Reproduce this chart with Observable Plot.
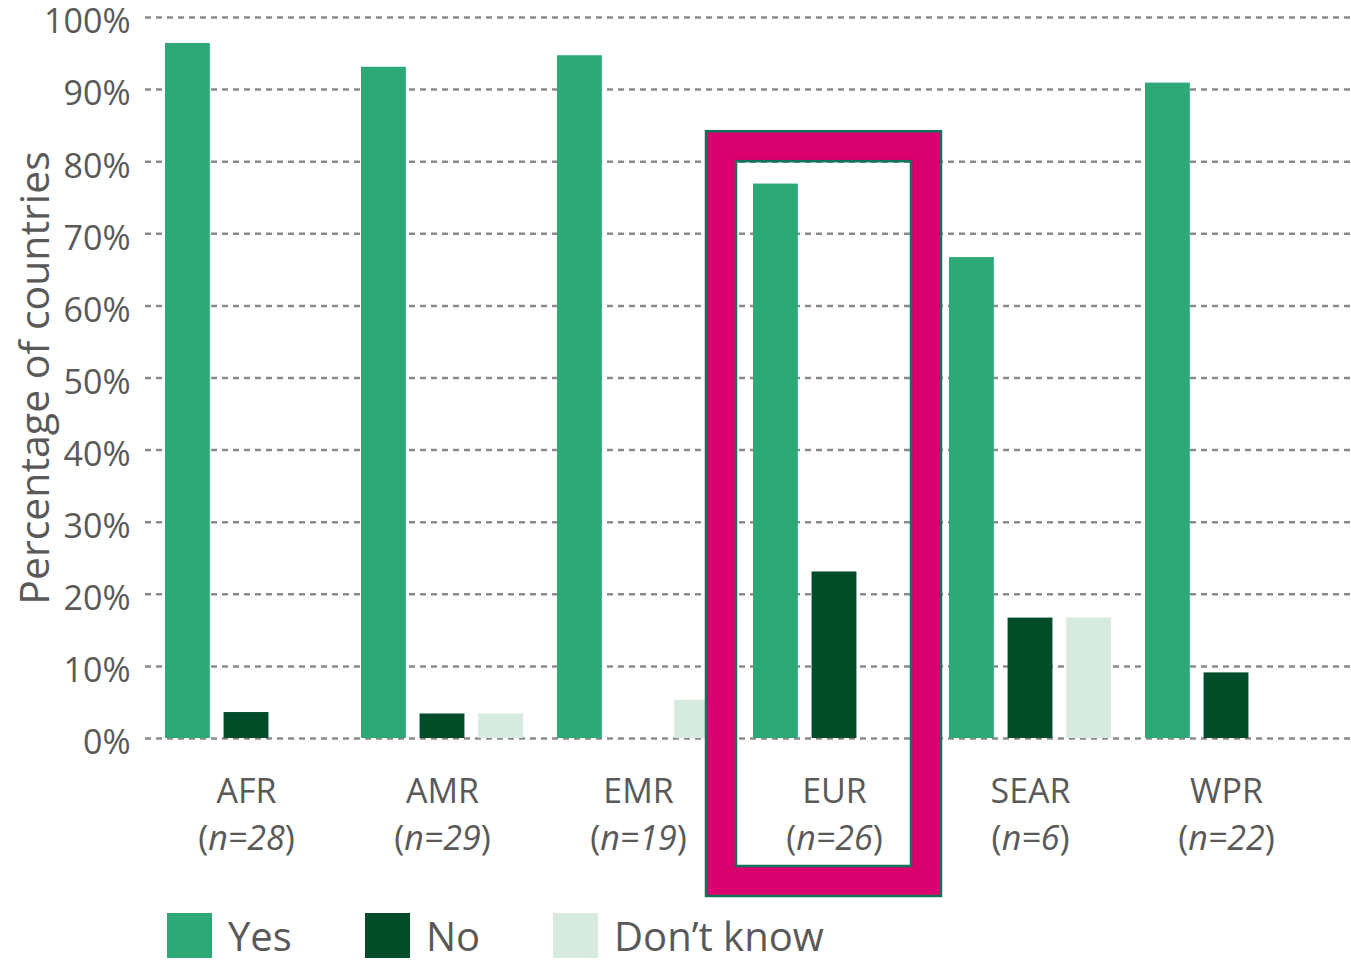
<!DOCTYPE html>
<html>
<head>
<meta charset="utf-8">
<script src="https://cdn.jsdelivr.net/npm/d3@7"></script>
<script src="https://cdn.jsdelivr.net/npm/@observablehq/plot@0.6"></script>
<style>
  html, body { margin: 0; padding: 0; background: #fff; }
  #chart { width: 1351px; }
  #legend { padding-left: 167px; margin-top: 8px; }
  #legend .lg-swatches { font-family: "Open Sans", sans-serif; font-size: 40px; color: #595959; min-height: 45px; margin: 0; line-height: 1.1; }
  #legend .lg-swatch { margin-right: 73px; }
  #legend .lg-swatch > svg { margin-right: 16px; }
</style>
</head>
<body>
<div id="chart"></div>
<div id="legend"></div>
<script>
// ---- data ----
const regions = ["AFR", "AMR", "EMR", "EUR", "SEAR", "WPR"];
const sampleSizes = [28, 29, 19, 26, 6, 22];
const series = ["Yes", "No", "Don’t know"];
const yesValues = [96.4, 93.1, 94.7, 76.9, 66.7, 90.9];
const noValues = [3.6, 3.4, 0, 23.1, 16.7, 9.1];
const dontKnowValues = [0, 3.4, 5.3, 0, 16.7, 0];
const seriesColors = ["#2fa878", "#014d2a", "#d6eadf"];
const yTicks = [0, 10, 20, 30, 40, 50, 60, 70, 80, 90, 100];
const yLabel = "Percentage of countries";
const highlightRegion = "EUR";
const highlightTop = 80;

const valuesBySeries = [yesValues, noValues, dontKnowValues];
const data = [];
series.forEach((s, si) => regions.forEach((r, ri) => {
  data.push({ region: r, series: s, value: valuesBySeries[si][ri] });
}));
const labels = regions.map((r, i) => ({ region: r, name: r, n: `(n=${sampleSizes[i]})` }));

// ---- layout ----
const width = 1351, height = 905;
const marginLeft = 148, marginRight = 0, marginTop = 17, marginBottom = 167;
const xPadOuter = 0.065;
const step = (width - marginLeft - marginRight) / (regions.length + 2 * xPadOuter);
const sub = d3.scaleBand().domain(series).range([0, step]).paddingInner(0.23).paddingOuter(0.29);
const bw = sub.bandwidth();

const barMarks = series.map(s => Plot.barY(
  data.filter(d => d.series === s && d.value > 0),
  { x: "region", y: "value", fill: "series",
    insetLeft: sub(s), insetRight: step - sub(s) - bw }
));

const hl = [{ region: highlightRegion }];
const bandStartInset = 15;
const frameRight = 6;

const chart = Plot.plot({
  width, height, marginLeft, marginRight, marginTop, marginBottom,
  style: { fontFamily: "Open Sans, sans-serif", fontSize: "34px", color: "#595959", background: "#fff" },
  x: { domain: regions, paddingInner: 0, paddingOuter: xPadOuter, align: 0, axis: null },
  y: { domain: [0, 100] },
  color: { domain: series, range: seriesColors },
  marks: [
    Plot.ruleY(yTicks, { stroke: "#8a8a8a", strokeWidth: 2.5, strokeDasharray: "6,5", insetLeft: -3 }),
    Plot.axisY({ ticks: yTicks, tickFormat: d => d + "%", tickSize: 0, tickPadding: 18, fontSize: 34, dy: 5, label: null }),
    Plot.text([yLabel], { text: d => d, frameAnchor: "left", textAnchor: "middle", lineAnchor: "middle", rotate: -90, dx: -113, fontSize: 41, fill: "#595959" }),
    ...barMarks,
    // highlight frame around EUR
    Plot.barY(hl, { x: "region", y1: 0, y2: highlightTop, fill: "none", stroke: "#db006f", strokeWidth: 30,
      insetLeft: -bandStartInset, insetRight: frameRight, insetTop: -15, insetBottom: -143 }),
    Plot.barY(hl, { x: "region", y1: 0, y2: highlightTop, fill: "none", stroke: "#13735a", strokeWidth: 2.5,
      insetLeft: -bandStartInset - 15, insetRight: frameRight - 15, insetTop: -30, insetBottom: -158 }),
    Plot.barY(hl, { x: "region", y1: 0, y2: highlightTop, fill: "none", stroke: "#13735a", strokeWidth: 2.5,
      insetLeft: -bandStartInset + 15, insetRight: frameRight + 15, insetTop: 0, insetBottom: -128 }),
    // category labels
    Plot.text(labels, { x: "region", text: "name", frameAnchor: "bottom", lineAnchor: "top", dy: 40, fontSize: 34, fill: "#595959" }),
    Plot.text(labels, { x: "region", text: "n", frameAnchor: "bottom", lineAnchor: "top", dy: 87, fontSize: 34, fill: "#595959" })
  ]
});

// italic "n=.." inside parentheses
chart.querySelectorAll("text").forEach(t => {
  const s = t.textContent;
  if (!/^\(n=\d+\)$/.test(s)) return;
  const inner = s.slice(1, -1);
  t.textContent = "";
  t.appendChild(document.createTextNode("("));
  const ts = document.createElementNS("http://www.w3.org/2000/svg", "tspan");
  ts.setAttribute("font-style", "italic");
  ts.textContent = inner;
  t.appendChild(ts);
  t.appendChild(document.createTextNode(")"));
});

document.getElementById("chart").appendChild(chart);

const legend = Plot.legend({
  color: { domain: series, range: seriesColors },
  legend: "swatches", swatchSize: 45, className: "lg"
});
document.getElementById("legend").appendChild(legend);
</script>
</body>
</html>
